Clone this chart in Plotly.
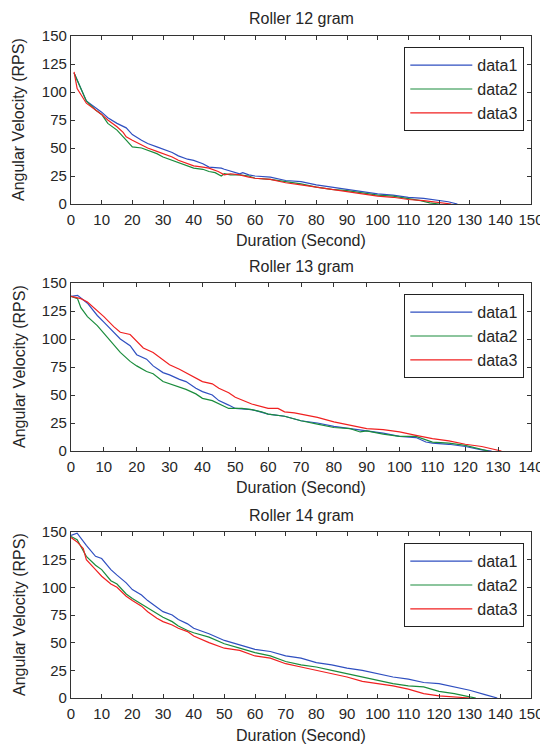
import plotly.graph_objects as go

# Roller 12 gram
t12_d1 = [1, 3, 5, 8, 10, 12, 15, 18, 20, 23, 25, 28, 30, 33, 35, 38, 40, 43, 45, 49, 50, 53, 55, 56, 58, 60, 65, 70, 75, 80, 85, 90, 95, 100, 105, 110, 115, 120, 123, 126]
v12_d1 = [117, 104, 92, 86, 82, 77, 72, 68, 62, 57, 54, 51, 49, 46, 43, 40, 39, 36, 33, 32, 31, 29, 27, 28, 26, 25, 24, 21, 20, 17, 15, 13, 11, 9, 8, 6, 5, 3.5, 2, 0]
t12_d2 = [1, 3, 5, 8, 10, 12, 15, 18, 20, 23, 25, 28, 30, 33, 35, 38, 40, 43, 45, 47, 49, 50, 52, 55, 58, 60, 65, 70, 75, 80, 85, 90, 95, 100, 105, 110, 114, 117, 120]
v12_d2 = [117, 105, 92, 84, 80, 72, 66, 57, 51, 50, 48, 45, 42, 39, 37, 34, 32, 31, 29, 28, 25, 27, 26, 26, 25, 23, 22, 20, 18, 15, 13, 12, 10, 8, 7, 5, 3, 1, 0]
t12_d3 = [1, 2, 5, 8, 10, 12, 15, 17, 18, 20, 23, 25, 28, 30, 33, 35, 38, 40, 43, 45, 48, 50, 52, 55, 58, 60, 65, 70, 75, 80, 85, 90, 95, 100, 105, 110, 115, 120, 124]
v12_d3 = [118, 103, 90, 84, 80, 75, 69, 64, 60, 57, 53, 50, 47, 45, 42, 39, 36, 34, 33, 32, 29, 26, 27, 26, 24, 23, 22, 19, 17, 15, 13, 11, 9, 7, 6, 4, 3, 1, 0]

# Roller 13 gram
t13_d1 = [0, 2, 5, 8, 10, 13, 15, 18, 20, 23, 25, 28, 30, 33, 35, 38, 40, 43, 45, 48, 50, 55, 60, 65, 70, 75, 80, 85, 90, 95, 100, 105, 108, 110, 115, 120, 125, 128]
v13_d1 = [138, 139, 132, 121, 115, 106, 100, 94, 86, 82, 76, 70, 68, 64, 62, 56, 53, 50, 45, 41, 38, 37, 33, 31, 27, 25, 22, 20, 18, 16, 13, 12, 8, 7, 6, 4, 1, 0]
t13_d2 = [0, 2, 3, 5, 8, 10, 13, 15, 18, 20, 23, 25, 28, 30, 33, 35, 38, 40, 43, 45, 48, 52, 55, 58, 60, 65, 70, 75, 80, 85, 88, 90, 95, 100, 105, 110, 115, 120, 125, 127]
v13_d2 = [138, 136, 128, 120, 112, 105, 95, 88, 80, 76, 71, 69, 62, 60, 57, 55, 51, 47, 45, 42, 38, 38, 37, 35, 33, 31, 27, 24, 21, 20, 17, 18, 15, 13, 13, 8, 7, 5, 1, 0]
t13_d3 = [0, 3, 5, 8, 10, 13, 15, 18, 20, 22, 25, 28, 30, 33, 35, 38, 40, 43, 45, 48, 50, 55, 60, 63, 65, 68, 70, 75, 80, 85, 90, 95, 98, 100, 105, 110, 115, 120, 125, 131]
v13_d3 = [138, 136, 133, 125, 120, 111, 106, 104, 98, 92, 88, 81, 77, 73, 70, 65, 62, 60, 56, 52, 48, 42, 38, 38, 35, 34, 33, 30, 26, 23, 20, 19, 18, 17, 14, 11, 9, 6, 4, 0]

# Roller 14 gram
t14_d1 = [0, 2, 5, 8, 10, 13, 15, 18, 20, 23, 25, 28, 30, 33, 35, 38, 40, 45, 50, 55, 60, 65, 70, 75, 80, 85, 90, 95, 100, 105, 110, 115, 120, 125, 130, 135, 139]
v14_d1 = [147, 149, 138, 128, 126, 116, 111, 104, 98, 93, 88, 82, 78, 75, 71, 67, 63, 58, 52, 48, 44, 42, 38, 36, 32, 30, 27, 25, 22, 19, 17, 14, 13, 10, 7, 3, 0]
t14_d2 = [0, 2, 5, 8, 10, 13, 15, 18, 20, 23, 25, 28, 30, 33, 35, 38, 40, 45, 50, 55, 60, 65, 70, 75, 80, 85, 90, 95, 100, 105, 110, 115, 120, 125, 130, 132]
v14_d2 = [146, 143, 128, 120, 116, 106, 103, 94, 90, 85, 81, 76, 73, 69, 65, 61, 59, 55, 49, 45, 41, 38, 33, 30, 28, 25, 22, 19, 16, 13, 11, 10, 6, 4, 1, 0]
t14_d3 = [0, 2, 4, 5, 8, 10, 13, 15, 18, 20, 23, 25, 28, 30, 33, 35, 38, 40, 45, 50, 55, 60, 65, 70, 75, 80, 85, 90, 95, 100, 105, 110, 115, 120, 125, 130]
v14_d3 = [145, 141, 135, 125, 116, 110, 103, 100, 92, 88, 83, 78, 72, 69, 66, 63, 60, 56, 50, 45, 43, 38, 36, 31, 28, 25, 22, 19, 15, 13, 11, 8, 4, 2, 1, 0]

titles = ["Roller 12 gram", "Roller 13 gram", "Roller 14 gram"]
x_max = [150, 140, 150]
series = [
    [(t12_d1, v12_d1), (t12_d2, v12_d2), (t12_d3, v12_d3)],
    [(t13_d1, v13_d1), (t13_d2, v13_d2), (t13_d3, v13_d3)],
    [(t14_d1, v14_d1), (t14_d2, v14_d2), (t14_d3, v14_d3)],
]
names = ["data1", "data2", "data3"]
colors = ["#2f4fc0", "#1a8c3c", "#f02020"]

W, H = 548, 745
OFF = 8  # the page body margin shifts the figure by this much
FONT = "Liberation Sans, Arial, sans-serif"
TXT = "#262626"

# plot boxes in screen pixels: (top, bottom)
boxes = [(36, 204), (283, 451), (532, 698)]
left, right = 71 - OFF, 531 - OFF


def px(y):
    # screen y -> paper fraction
    return 1 - (y - OFF) / H


fig = go.Figure()
annotations = []
for i in range(3):
    ax = "" if i == 0 else str(i + 1)
    leg = "legend" if i == 0 else "legend" + str(i + 1)
    for j in range(3):
        t, v = series[i][j]
        fig.add_trace(go.Scatter(
            x=t, y=v, mode="lines", name=names[j],
            line=dict(color=colors[j], width=1.2),
            xaxis="x" + ax, yaxis="y" + ax, legend=leg,
        ))
    top, bot = boxes[i]
    axis_style = dict(
        showline=True, linecolor="#333", linewidth=1.3, mirror="allticks",
        ticks="inside", ticklen=4, tickcolor="#333", showgrid=False, zeroline=False,
        tickfont=dict(family=FONT, size=15, color=TXT),
    )
    fig.update_layout(**{
        "xaxis" + ax: dict(axis_style, domain=[left / W, right / W], range=[0, x_max[i]],
                          dtick=10, anchor="y" + ax, ticklabelstandoff=2),
        "yaxis" + ax: dict(axis_style, domain=[px(bot), px(top)], range=[0, 150],
                          dtick=25, anchor="x" + ax),
        leg: dict(x=(524 - OFF) / W, xanchor="right", y=px(top + 11), yanchor="top",
                  bordercolor="#222", borderwidth=1.3, bgcolor="white",
                  font=dict(family=FONT, size=16, color=TXT),
                  itemwidth=62, tracegroupgap=0),
    })
    cx = (left + right) / 2 / W
    annotations.append(dict(text=titles[i], x=cx, y=px(top - 17),
                            xref="paper", yref="paper", showarrow=False,
                            xanchor="center", yanchor="middle",
                            font=dict(family=FONT, size=16, color=TXT)))
    annotations.append(dict(text="Duration (Second)", x=cx, y=px(bot + 37),
                            xref="paper", yref="paper", showarrow=False,
                            xanchor="center", yanchor="middle",
                            font=dict(family=FONT, size=16, color=TXT)))
    annotations.append(dict(text="Angular Velocity (RPS)", x=(19 - OFF) / W, y=px((top + bot) / 2),
                            xref="paper", yref="paper", showarrow=False, textangle=-90,
                            xanchor="center", yanchor="middle",
                            font=dict(family=FONT, size=16, color=TXT)))

fig.update_layout(
    width=W, height=H, template="none",
    margin=dict(l=0, r=0, t=0, b=0),
    paper_bgcolor="white", plot_bgcolor="white",
    showlegend=True, annotations=annotations,
)

fig.write_html("out.html")
